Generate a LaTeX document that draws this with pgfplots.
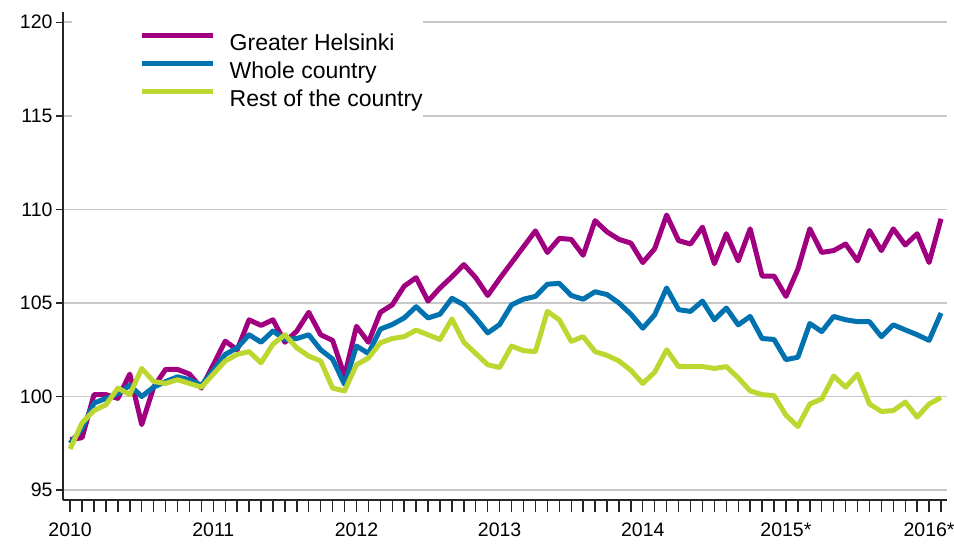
\documentclass[border=0pt]{standalone}
\usepackage{fontspec}
\setmainfont{Liberation Sans}
\usepackage{pgfplots}
\pgfplotsset{compat=1.18}
\definecolor{gh}{RGB}{160,0,128}
\definecolor{wc}{RGB}{0,114,176}
\definecolor{rc}{RGB}{190,214,48}
\definecolor{gridc}{RGB}{200,200,200}

\pgfplotstableread{
m gh wc rc
0 97.7 97.5 97.2
1 97.8 98.3 98.6
2 100.1 99.65 99.25
3 100.1 99.9 99.56
4 99.9 100.15 100.45
5 101.2 100.6 100.1
6 98.5 100.0 101.5
7 100.5 100.5 100.8
8 101.45 100.8 100.7
9 101.45 101.05 100.9
10 101.2 100.9 100.7
11 100.45 100.6 100.5
12 101.7 101.4 101.2
13 102.96 102.25 101.9
14 102.5 102.6 102.25
15 104.1 103.3 102.4
16 103.8 102.9 101.8
17 104.1 103.5 102.8
18 102.9 103.05 103.3
19 103.5 103.1 102.6
20 104.5 103.3 102.16
21 103.3 102.5 101.9
22 103.0 102.0 100.45
23 101.1 100.65 100.3
24 103.75 102.7 101.7
25 102.9 102.3 102.06
26 104.5 103.6 102.87
27 104.9 103.85 103.1
28 105.9 104.2 103.2
29 106.35 104.8 103.55
30 105.1 104.2 103.3
31 105.8 104.4 103.05
32 106.4 105.25 104.15
33 107.05 104.9 102.9
34 106.35 104.2 102.3
35 105.4 103.4 101.7
36 106.3 103.85 101.55
37 107.15 104.9 102.7
38 108.0 105.2 102.45
39 108.85 105.35 102.4
40 107.7 106.0 104.55
41 108.45 106.05 104.1
42 108.4 105.4 102.95
43 107.55 105.2 103.2
44 109.4 105.6 102.4
45 108.8 105.45 102.2
46 108.4 105.0 101.9
47 108.2 104.4 101.4
48 107.16 103.65 100.7
49 107.9 104.37 101.3
50 109.7 105.8 102.5
51 108.33 104.64 101.6
52 108.15 104.55 101.6
53 109.05 105.1 101.6
54 107.1 104.1 101.5
55 108.7 104.73 101.6
56 107.25 103.83 101.0
57 108.96 104.28 100.3
58 106.44 103.1 100.1
59 106.44 103.05 100.05
60 105.35 101.97 99.0
61 106.8 102.1 98.4
62 108.96 103.9 99.6
63 107.7 103.47 99.87
64 107.8 104.28 101.1
65 108.15 104.1 100.5
66 107.25 104.0 101.2
67 108.87 104.0 99.6
68 107.8 103.2 99.2
69 108.96 103.83 99.25
70 108.1 103.56 99.7
71 108.7 103.3 98.9
72 107.16 103.0 99.6
73 109.5 104.46 99.95
}\datatable

\begin{document}
\begin{tikzpicture}
\begin{axis}[
  width=884bp, height=488bp, scale only axis,
  xmin=-0.6, xmax=73.5, ymin=94.47, ymax=120.55,
  axis x line*=bottom, axis y line*=left,
  axis line style={black!85, line width=1.8bp},
  xtick={0,12,...,72},
  xticklabels={2010,2011,2012,2013,2014,2015*,2016*},
  minor xtick={0,...,73},
  major x tick style={draw=none},
  ytick={95,100,...,120},
  ymajorgrids,
  major grid style={gridc, line width=1.6bp},
  tick align=outside,
  major tick length=7bp, minor tick length=12bp,
  tick style={black!85, line width=1.4bp},
  tick label style={font=\fontsize{19.5bp}{22bp}\selectfont},
  xticklabel style={yshift=-12bp},
  /pgf/number format/assume math mode=true,
  legend style={at={(0.0102,0.9918)}, anchor=north west, fill=white, draw=none,
    inner xsep=0pt, inner ysep=16bp, row sep=4.5bp,
    font=\fontsize{23bp}{27bp}\selectfont,
    nodes={inner sep=0pt, text height=18.5bp, text depth=5bp},
    /tikz/every odd column/.style={column sep=14bp},
    /tikz/every even column/.style={column sep=6bp}},
  legend cell align=left,
  legend image code/.code={\path[draw=none] (0bp,0bp) -- (70bp,0bp);
    \draw[#1] (70bp,8bp) -- (141bp,8bp);},
  every axis plot/.append style={line width=5bp, line join=round},
]
\addplot[gh] table[x=m, y=gh] {\datatable};
\addplot[wc] table[x=m, y=wc] {\datatable};
\addplot[rc] table[x=m, y=rc] {\datatable};
\legend{Greater Helsinki, Whole country, Rest of the country}
\end{axis}
\pgfresetboundingbox
\path (current axis.south west) ++(-63bp,-44bp) rectangle ++(954bp,544bp);
\end{tikzpicture}
\end{document}
